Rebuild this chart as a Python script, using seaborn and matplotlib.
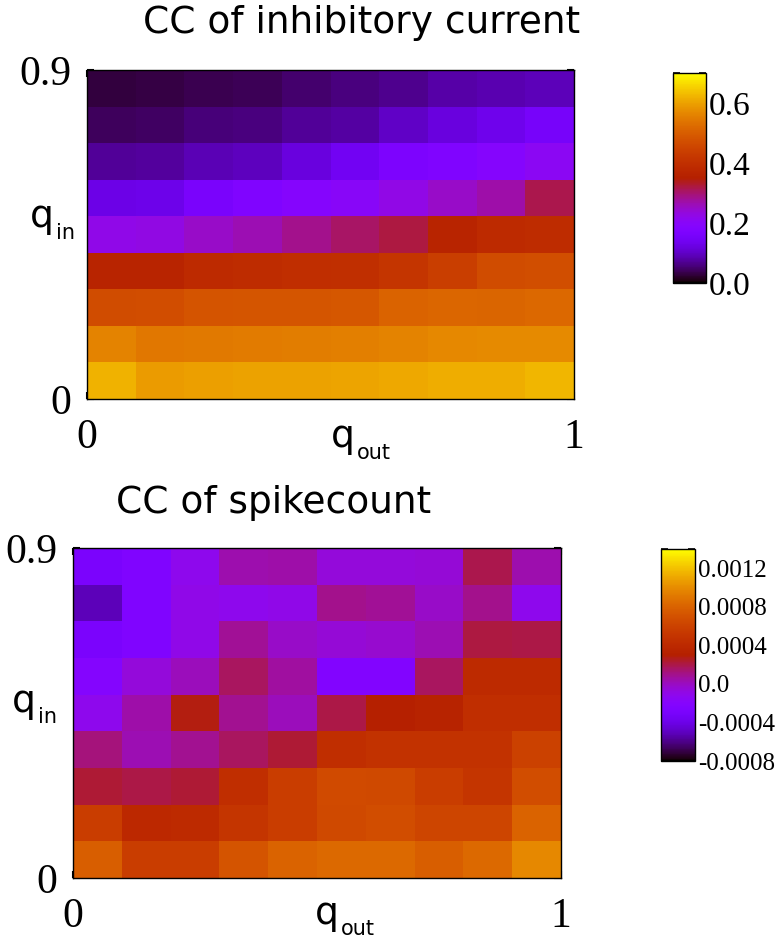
import matplotlib.pyplot as plt
import numpy as np
import seaborn as sns
from matplotlib.ticker import MultipleLocator

# Achsenbeschriftung (nur Rand-Ticks beschriftet)
q_out_ticklabels = ["0", "", "", "", "", "1"]
q_in_ticklabels = ["0.9", "", "", "", "", "", "", "", "", "0"]

# CC des inhibitorischen Stroms, Zeilen von q_in = 0.9 (oben) bis 0 (unten)
cc_inh = np.array([
    [0.030, 0.031, 0.036, 0.040, 0.050, 0.058, 0.068, 0.080, 0.087, 0.092],
    [0.043, 0.045, 0.055, 0.060, 0.073, 0.077, 0.100, 0.120, 0.133, 0.155],
    [0.073, 0.075, 0.090, 0.095, 0.120, 0.140, 0.168, 0.175, 0.190, 0.210],
    [0.126, 0.130, 0.160, 0.175, 0.190, 0.200, 0.225, 0.250, 0.270, 0.315],
    [0.224, 0.228, 0.250, 0.265, 0.287, 0.305, 0.322, 0.365, 0.385, 0.390],
    [0.364, 0.366, 0.385, 0.390, 0.395, 0.398, 0.413, 0.437, 0.465, 0.472],
    [0.465, 0.470, 0.483, 0.485, 0.485, 0.487, 0.510, 0.515, 0.512, 0.518],
    [0.560, 0.542, 0.545, 0.547, 0.550, 0.553, 0.560, 0.567, 0.570, 0.570],
    [0.620, 0.592, 0.597, 0.600, 0.600, 0.602, 0.608, 0.615, 0.615, 0.625],
])

# CC des Spikecounts (Einheit 1e-4)
cc_spike = np.array([
    [-2.9, -2.5, -1.2, 0.4, 0.5, -0.6, -0.6, -0.5, 1.9, 0.4],
    [-5.1, -2.5, -1.0, -1.2, -1.0, 1.0, 0.8, -0.1, 1.0, -1.2],
    [-2.9, -2.5, -1.0, 0.8, -0.1, -0.5, -0.3, 0.3, 2.1, 2.0],
    [-2.1, -0.6, 0.1, 1.7, 0.6, -2.3, -2.3, 1.7, 4.1, 4.1],
    [-1.2, 0.5, 2.8, 0.9, 0.1, 2.0, 3.0, 3.4, 4.4, 4.4],
    [1.2, 0.3, 0.9, 1.7, 2.3, 4.4, 4.8, 4.8, 4.8, 6.0],
    [2.3, 2.0, 2.3, 4.4, 5.6, 6.6, 6.5, 5.6, 5.0, 6.7],
    [5.6, 3.9, 4.1, 5.0, 5.6, 6.5, 6.7, 6.2, 6.2, 8.0],
    [7.8, 5.6, 5.6, 7.2, 8.0, 8.4, 8.4, 7.8, 8.4, 9.8],
]) * 1e-4

inh_cticks = [0.0, 0.2, 0.4, 0.6]
inh_cticklabels = ["0.0", "0.2", "0.4", "0.6"]
spike_cticks = [-0.0008, -0.0004, 0.0, 0.0004, 0.0008, 0.0012]
spike_cticklabels = ["-0.0008", "-0.0004", "0.0", "0.0004", "0.0008", "0.0012"]

sns.set_style("white")
plt.rcParams["font.family"] = ["DejaVu Sans"]
plt.rcParams["text.color"] = "black"
plt.rcParams["xtick.color"] = "black"
plt.rcParams["ytick.color"] = "black"
SERIF = ["Liberation Serif", "DejaVu Serif"]

W, H = 780, 943
fig = plt.figure(figsize=(W / 100, H / 100), dpi=100)


def px_rect(x0, y0, x1, y1):
    return [x0 / W, 1 - y1 / H, (x1 - x0) / W, (y1 - y0) / H]


def panel(data, ax_px, cax_px, vmin, vmax, cticks, cticklabels, cminor, cfont):
    ax = fig.add_axes(px_rect(*ax_px))
    cax = fig.add_axes(px_rect(*cax_px))
    sns.heatmap(data, ax=ax, cbar_ax=cax, cmap="gnuplot", vmin=vmin, vmax=vmax,
                xticklabels=False, yticklabels=False)
    nrow, ncol = data.shape

    for s in ax.spines.values():
        s.set_visible(True)
        s.set_linewidth(1.0)
        s.set_color("black")
    ax.set_xticks(np.linspace(0, ncol, len(q_out_ticklabels)))
    ax.set_xticklabels(q_out_ticklabels, fontsize=30, family=SERIF, color="black")
    ax.set_yticks(np.arange(nrow + 1))
    ax.set_yticklabels(q_in_ticklabels, fontsize=30, family=SERIF, rotation=0,
                       color="black")
    ax.tick_params(axis="x", direction="in", length=5, width=1.5, pad=14,
                   top=True, bottom=True, color="black")
    ax.tick_params(axis="y", direction="in", length=5, width=1.5, pad=11,
                   left=True, right=True, color="black")

    cbar = ax.collections[0].colorbar
    cbar.outline.set_edgecolor("black")
    cbar.outline.set_linewidth(1.0)
    cbar.set_ticks(cticks, labels=cticklabels)
    cax.yaxis.set_minor_locator(MultipleLocator(cminor))
    cax.tick_params(which="both", direction="in", length=5, width=1.2,
                    left=True, right=True, color="black", pad=2)
    for t in cax.get_yticklabels():
        t.set_fontsize(cfont)
        t.set_family(SERIF)
        t.set_color("black")
    return ax


panel(cc_inh, (87, 70, 574, 399), (673, 73, 706, 283), 0.0, 0.7,
      inh_cticks, inh_cticklabels, 0.1, 24)
panel(cc_spike, (73, 548, 561, 878), (661, 549, 695, 761), -0.0008, 0.0014,
      spike_cticks, spike_cticklabels, 0.0002, 18)

# Titel
fig.text(362 / W, 1 - 33 / H, "CC of inhibitory current", fontsize=27,
         ha="center", va="baseline")
fig.text(274 / W, 1 - 513 / H, "CC of spikecount", fontsize=27,
         ha="center", va="baseline")


def qlabel(x, y, sub, dx, dy):
    fig.text(x / W, 1 - y / H, "q", fontsize=27, ha="left", va="baseline")
    fig.text((x + dx) / W, 1 - (y + dy) / H, sub, fontsize=15,
             ha="left", va="baseline")


qlabel(30, 227, "in", 26, 12)
qlabel(331, 447, "out", 26, 12)
qlabel(12, 712, "in", 26, 11)
qlabel(315, 924, "out", 26, 11)

fig.savefig("out.png", dpi=100)
